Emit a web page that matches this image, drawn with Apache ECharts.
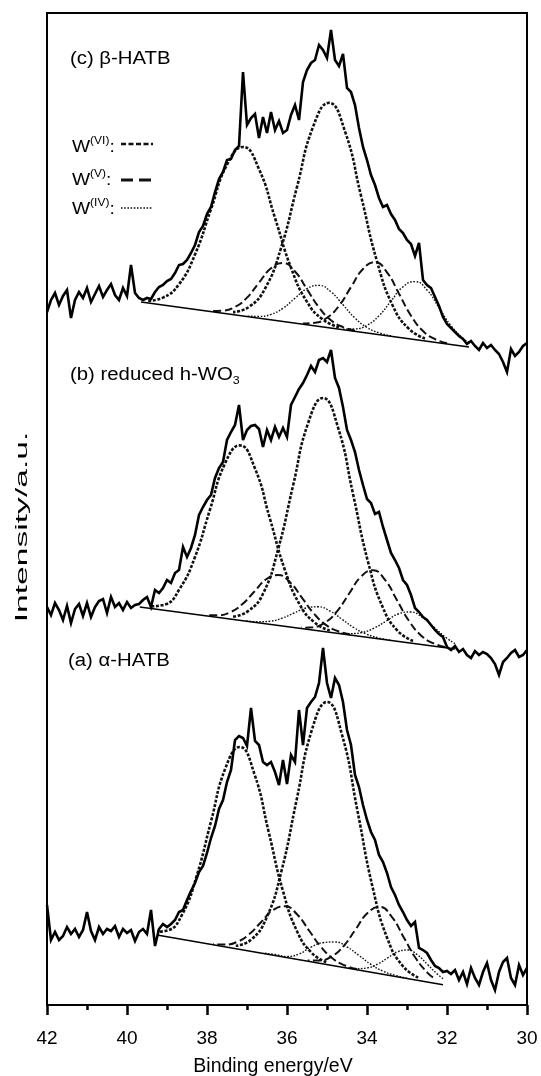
<!DOCTYPE html>
<html><head><meta charset="utf-8">
<script src="https://cdn.jsdelivr.net/npm/echarts@6/dist/echarts.min.js"></script>
<style>html,body{margin:0;padding:0;background:#fff}#c{width:541px;height:1076px}</style>
</head><body><div id="c"></div>
<script>
// Binding energy grid (eV) for the measured spectra
const energy = [42.0,41.9,41.8,41.7,41.6,41.5,41.4,41.3,41.2,41.1,41.0,40.9,40.8,40.7,40.6,40.5,40.4,40.3,40.2,40.1,40.0,39.9,39.8,39.7,39.6,39.5,39.4,39.3,39.2,39.1,39.0,38.9,38.8,38.7,38.6,38.5,38.4,38.3,38.2,38.1,38.0,37.9,37.8,37.7,37.6,37.5,37.4,37.3,37.2,37.1,37.0,36.9,36.8,36.7,36.6,36.5,36.4,36.3,36.2,36.1,36.0,35.9,35.8,35.7,35.6,35.5,35.4,35.3,35.2,35.1,35.0,34.9,34.8,34.7,34.6,34.5,34.4,34.3,34.2,34.1,34.0,33.9,33.8,33.7,33.6,33.5,33.4,33.3,33.2,33.1,33.0,32.9,32.8,32.7,32.6,32.5,32.4,32.3,32.2,32.1,32.0,31.9,31.8,31.7,31.6,31.5,31.4,31.3,31.2,31.1,31.0,30.9,30.8,30.7,30.6,30.5,30.4,30.3,30.2,30.1,30.0];

// Measured intensities (a.u., stacked with offsets)
const specC = [693,705,712,700,709,715,687,705,713,707,717,703,711,719,708,715,721,710,705,717,709,740,712,707,705,707,706,713,718,720,724,726,732,740,741,745,752,760,773,779,791,798,813,826,833,845,846,855,859,933,880,887,891,867,888,872,893,875,884,872,875,890,900,885,923,935,942,945,960,955,947,975,945,939,951,917,913,900,877,858,845,830,820,807,798,800,791,785,776,772,765,761,749,762,725,720,717,708,699,688,681,677,673,669,666,661,664,659,655,662,657,660,655,651,643,633,656,649,653,659,662];
const specB = [398,390,402,395,385,399,382,396,401,389,402,388,398,404,406,392,408,398,402,395,403,397,400,401,405,408,398,415,412,417,425,422,432,435,458,448,457,470,490,498,505,510,527,537,543,565,573,580,600,565,575,579,580,576,558,575,565,578,568,577,568,600,608,616,622,630,639,633,645,647,643,655,627,617,598,575,565,553,535,520,506,502,491,493,478,465,452,445,437,425,420,410,397,393,388,385,380,375,371,368,358,355,359,353,356,350,347,354,350,353,351,347,341,330,343,347,352,355,348,350,355];
const specA = [100,65,73,65,69,78,71,76,68,75,93,74,65,78,71,76,74,79,68,76,72,75,64,73,76,71,95,59,76,81,78,81,85,93,95,105,114,122,133,139,152,167,179,196,205,223,235,265,269,267,259,297,264,260,243,240,243,233,220,245,221,250,243,295,260,297,303,308,322,357,322,307,327,320,303,275,260,230,218,200,185,173,165,150,143,132,118,110,100,93,85,79,83,57,55,52,45,39,37,33,34,31,35,25,33,21,37,27,20,33,42,25,15,33,43,47,27,20,40,30,37];

// Linear backgrounds: [eV, intensity]
const bgC = [[39.65,703],[31.45,658]];
const bgB = [[39.68,398],[31.8,356]];
const bgA = [[39.25,70],[32.1,20.3]];

// Fitted components (c) beta-HATB
const cVI72 = [[32.55,666.5],[32.95,676.1],[33.35,698.8],[33.75,743.7],[34.15,809.3],[34.55,873.6],[34.95,902.2],[35.35,878.0],[35.75,818.1],[36.15,756.9],[36.55,716.4],[36.95,698.1],[37.35,692.9]];
const cVI52 = [[34.7,677.7],[35.1,685.4],[35.5,703.1],[35.9,737.3],[36.3,787.1],[36.7,835.9],[37.1,858.0],[37.5,840.3],[37.9,795.9],[38.3,750.5],[38.7,720.7],[39.1,707.4],[39.5,704.1]];
const cV72 = [[32.0,661.8],[32.3,665.8],[32.6,674.0],[32.9,689.3],[33.2,711.3],[33.5,732.7],[33.8,742.9],[34.1,736.0],[34.4,717.9],[34.7,699.2],[35.0,687.2],[35.3,682.3],[35.6,681.6]];
const cV52 = [[34.3,674.3],[34.6,677.9],[34.9,684.8],[35.2,697.6],[35.5,715.7],[35.8,733.5],[36.1,742.0],[36.4,736.7],[36.7,722.3],[37.0,707.4],[37.3,698.0],[37.6,694.3],[37.9,694.0]];
const cIV72 = [[31.45,662.6],[31.6,666.6],[31.9,679.3],[32.2,697.3],[32.5,715.0],[32.8,723.4],[33.1,718.3],[33.4,703.9],[33.7,689.2],[34.0,679.8],[34.3,676.1],[34.6,675.9]];
const cIV52 = [[33.4,669.2],[33.7,672.2],[34.0,677.5],[34.3,686.9],[34.6,700.2],[34.9,713.1],[35.2,719.6],[35.5,716.4],[35.8,706.8],[36.1,696.8],[36.4,690.6],[36.7,688.6],[37.0,688.9]];

// Fitted components (b) reduced h-WO3
const bVI52 = [[34.93,374.5],[35.305,382.3],[35.68,400.3],[36.055,435.4],[36.43,486.7],[36.805,537.0],[37.18,559.6],[37.555,541.1],[37.93,494.8],[38.305,447.5],[38.68,416.4],[39.055,400.4],[39.43,398.6]];
const bVI72 = [[32.85,364.1],[33.225,373.8],[33.6,397.1],[33.975,443.3],[34.35,511.1],[34.725,577.6],[35.1,607.0],[35.475,581.6],[35.85,519.1],[36.225,455.4],[36.6,411.2],[36.975,393.9],[37.35,388.2]];
const bV72 = [[32.05,358.1],[32.35,361.8],[32.65,369.6],[32.95,384.1],[33.25,404.8],[33.55,425.2],[33.85,434.8],[34.15,428.4],[34.45,411.2],[34.75,393.7],[35.05,382.4],[35.35,377.8],[35.65,377.3]];
const bV52 = [[34.42,370.5],[34.72,373.7],[35.02,379.9],[35.32,391.1],[35.62,406.9],[35.92,422.5],[36.22,430.0],[36.52,425.7],[36.82,413.3],[37.12,400.7],[37.42,392.7],[37.72,389.7],[38.02,389.7]];
const bIV72 = [[31.8,361.4],[32.02,367.3],[32.32,377.6],[32.62,387.8],[32.92,393.0],[33.22,391.0],[33.52,384.0],[33.82,376.9],[34.12,372.6],[34.42,371.4],[34.72,371.9]];
const bIV52 = [[33.42,364.9],[33.72,367.2],[34.02,371.0],[34.32,377.2],[34.62,385.6],[34.92,393.8],[35.22,398.2],[35.52,397.0],[35.82,392.0],[36.12,386.8],[36.42,383.8],[36.72,383.2],[37.02,384.1]];

// Fitted components (a) alpha-HATB
const aVI52 = [[35.02,42.8],[35.38,52.0],[35.74,73.0],[36.10,113.8],[36.46,173.4],[36.82,231.7],[37.18,258.0],[37.54,236.8],[37.90,183.5],[38.26,128.9],[38.62,90.6],[38.98,74.6],[39.25,73.3]];
const aVI72 = [[32.72,27.5],[33.10,38.7],[33.48,65.4],[33.86,117.8],[34.24,194.5],[34.62,269.5],[35.00,303.0],[35.38,274.8],[35.76,205.0],[36.14,133.7],[36.52,86.5],[36.90,65.2],[37.28,59.2]];
const aV72 = [[32.35,27.7],[32.48,31.9],[32.78,46.7],[33.08,67.6],[33.38,88.1],[33.68,98.0],[33.98,92.3],[34.28,75.9],[34.58,59.2],[34.88,48.6],[35.18,44.6],[35.48,44.5]];
const aV52 = [[34.25,35.8],[34.55,39.5],[34.85,46.3],[35.15,58.1],[35.45,74.5],[35.75,90.7],[36.05,98.8],[36.35,94.9],[36.65,82.8],[36.95,70.6],[37.25,63.0],[37.55,60.4],[37.85,60.9]];
const aIV72 = [[32.1,26.4],[32.23,30.5],[32.48,40.2],[32.73,49.8],[32.98,55.0],[33.23,53.3],[33.48,47.2],[33.73,40.9],[33.98,37.2],[34.23,36.4],[34.48,37.1]];
const aIV52 = [[33.0,26.8],[33.3,29.7],[33.6,33.9],[33.9,40.6],[34.2,49.5],[34.5,58.1],[34.8,63.0],[35.1,62.3],[35.4,57.8],[35.7,51.0],[36.0,48.5],[36.3,50.5],[36.6,51.9]];

const xTicks = [42, 40, 38, 36, 34, 32, 30];

const FONT = '"Liberation Sans", Arial, sans-serif';
const styleVI = {color:'#111', width:2.6, type:[3,1.6]};
const styleV  = {color:'#111', width:2, type:[8,3.5]};
const styleIV = {color:'#111', width:1.4, type:[1.6,1.6]};

function comp(data, ls){
  return {type:'line', data:data, smooth:0.5, showSymbol:false, symbol:'none', lineStyle:ls, z:3, silent:true, animation:false};
}
function meas(arr){
  return {type:'line', data:energy.map((e,i)=>[e,arr[i]]), showSymbol:false, symbol:'none', lineStyle:{color:'#000', width:2.6, join:'miter', miterLimit:4}, z:5, silent:true, animation:false};
}
function bg(d){
  return {type:'line', data:d, showSymbol:false, symbol:'none', lineStyle:{color:'#000', width:1.4}, z:4, silent:true, animation:false};
}
const legRich = {m:{fontSize:16, fontFamily:FONT, lineHeight:20, verticalAlign:'bottom'}, s:{fontSize:10, fontFamily:FONT, lineHeight:20, verticalAlign:'top'}};

const chart = echarts.init(document.getElementById('c'), null, {renderer:'canvas'});
chart.setOption({
  animation:false,
  backgroundColor:'#fff',
  grid:{left:47, right:14, top:13, bottom:71, show:true, borderColor:'#000', borderWidth:2, backgroundColor:'transparent', containLabel:false, outerBoundsMode:'none'},
  xAxis:{type:'value', min:30, max:42, interval:2, inverse:true,
    axisLine:{show:true, lineStyle:{color:'#000', width:2}},
    axisTick:{show:true, inside:false, length:10, lineStyle:{color:'#000', width:2.5}},
    minorTick:{show:true, splitNumber:2, length:5, lineStyle:{color:'#000', width:2.5}},
    splitLine:{show:false},
    axisLabel:{margin:24, fontSize:19, color:'#000', fontFamily:FONT,
      formatter:v=>xTicks.indexOf(v)>=0?String(v):''},
    name:'Binding energy/eV', nameLocation:'middle', nameGap:52,
    nameTextStyle:{fontSize:19.5, color:'#000', fontFamily:FONT, padding:[0,28,0,0]}
  },
  yAxis:{type:'value', min:0, max:992,
    axisLine:{show:true, lineStyle:{color:'#000', width:2}},
    axisTick:{show:false}, axisLabel:{show:false}, splitLine:{show:false}
  },
  series:[
    bg(bgC), bg(bgB), bg(bgA),
    comp(cVI72,styleVI), comp(cVI52,styleVI), comp(cV72,styleV), comp(cV52,styleV), comp(cIV72,styleIV), comp(cIV52,styleIV),
    comp(bVI72,styleVI), comp(bVI52,styleVI), comp(bV72,styleV), comp(bV52,styleV), comp(bIV72,styleIV), comp(bIV52,styleIV),
    comp(aVI72,styleVI), comp(aVI52,styleVI), comp(aV72,styleV), comp(aV52,styleV), comp(aIV72,styleIV), comp(aIV52,styleIV),
    meas(specC), meas(specB), meas(specA)
  ],
  graphic:[
    {type:'text', x:23, y:527, rotation:Math.PI/2, scaleX:2.1,
      style:{text:'Intensity/a.u.', font:'16px '+FONT, fill:'#000', align:'center', verticalAlign:'middle'}},
    {type:'text', x:70, y:59, scaleX:1.13, style:{text:'(c) β-HATB', font:'18px '+FONT, fill:'#000', verticalAlign:'middle'}},
    {type:'text', x:70, y:375, scaleX:1.13, style:{text:'{m|(b) reduced h-WO}{s|3}', fill:'#000', verticalAlign:'middle',
      rich:{m:{fontSize:18, fontFamily:FONT, lineHeight:22, verticalAlign:'middle'}, s:{fontSize:11, fontFamily:FONT, lineHeight:22, verticalAlign:'bottom'}}}},
    {type:'text', x:68, y:661, scaleX:1.13, style:{text:'(a) α-HATB', font:'18px '+FONT, fill:'#000', verticalAlign:'middle'}},
    {type:'text', x:72, y:146, scaleX:1.2, style:{text:'{m|W}{s|(VI)}{m|:}', fill:'#000', verticalAlign:'middle', rich:legRich}},
    {type:'text', x:72, y:179, scaleX:1.2, style:{text:'{m|W}{s|(V)}{m|:}', fill:'#000', verticalAlign:'middle', rich:legRich}},
    {type:'text', x:72, y:208, scaleX:1.2, style:{text:'{m|W}{s|(IV)}{m|:}', fill:'#000', verticalAlign:'middle', rich:legRich}},
    {type:'line', shape:{x1:121, y1:144, x2:153, y2:144}, style:{stroke:'#111', lineWidth:2.6, lineDash:[5,2.5]}},
    {type:'line', shape:{x1:121, y1:180, x2:153, y2:180}, style:{stroke:'#111', lineWidth:2.8, lineDash:[12,6]}},
    {type:'line', shape:{x1:121, y1:208, x2:153, y2:208}, style:{stroke:'#111', lineWidth:1.6, lineDash:[1.6,1.6]}}
  ]
});
</script>
</body></html>
